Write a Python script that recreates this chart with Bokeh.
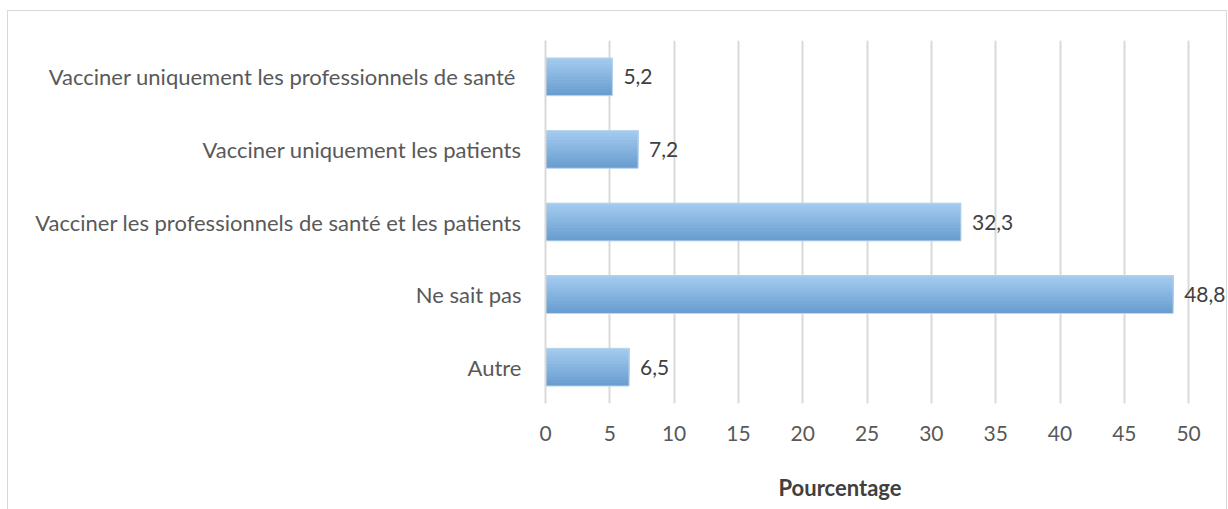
from bokeh.plotting import figure
from bokeh.models import FactorRange, ColumnDataSource, FixedTicker, Range1d, Title
from bokeh.transform import dodge
from bokeh.embed import file_html
from bokeh.resources import INLINE
from bokeh.core.properties import value

categories = [
    "Autre",
    "Ne sait pas",
    "Vacciner les professionnels de santé et les patients",
    "Vacciner uniquement les patients",
    "Vacciner uniquement les professionnels de santé ",
]
values = [6.5, 48.8, 32.3, 7.2, 5.2]
x_ticks = [0, 5, 10, 15, 20, 25, 30, 35, 40, 45, 50]
axis_title = "Pourcentage"

labels = [f"{v:.1f}".replace(".", ",") for v in values]
src = ColumnDataSource(dict(cat=categories, val=values, lab=labels))

FONT = "Lato"
p = figure(
    width=1220, height=499,
    y_range=FactorRange(*categories, range_padding=0),
    x_range=Range1d(0, 53.1),
    output_backend="svg", toolbar_location=None,
    min_border_left=537, min_border_right=0, min_border_top=29, min_border_bottom=107,
)
p.styles = {"border": "1px solid #d9d9d9", "border-bottom": "none",
            "box-sizing": "border-box", "margin-left": "7px", "margin-top": "10px"}
p.outline_line_color = None

# gradient simulation: overlapping bars, darkest (full) first, lighter top parts over it
bar_h = 0.52
n = 12
top_c = (0xa2, 0xca, 0xee)
bot_c = (0x6a, 0x9e, 0xd0)
strip = bar_h / n
for i in range(n):
    t = (n - 1 - i) / (n - 1)
    c = tuple(int(round(top_c[k] + (bot_c[k] - top_c[k]) * t)) for k in range(3))
    col = "#%02x%02x%02x" % c
    h = (n - i) * strip
    off = bar_h / 2 - h / 2
    p.hbar(y=dodge("cat", off, range=p.y_range), right="val", left=0,
           height=h, source=src, fill_color=col, line_color=None)
p.hbar(y="cat", right="val", left=0, height=bar_h, source=src,
       fill_color=None, line_color="#bcd6ee", line_width=1)

p.text(x="val", y="cat", text="lab", source=src, x_offset=11,
       text_baseline="middle", text_align="left", text_font=value(FONT),
       text_font_size="21px", text_color="#404040")

p.xgrid.grid_line_color = "#d9d9d9"
p.xgrid.grid_line_width = 2
p.ygrid.grid_line_color = None
p.xaxis.ticker = FixedTicker(ticks=x_ticks)
p.xaxis.axis_line_color = None
p.xaxis.major_tick_line_color = None
p.xaxis.minor_tick_line_color = None
p.xaxis.major_label_text_font = FONT
p.xaxis.major_label_text_font_size = "21px"
p.xaxis.major_label_text_color = "#595959"
p.xaxis.major_label_standoff = 16
# invisible spacer label to push the title down
p.xaxis.axis_label = " "
p.xaxis.axis_label_text_font_size = "1px"
p.xaxis.axis_label_standoff = 15

p.yaxis.axis_line_color = "#d9d9d9"
p.yaxis.axis_line_width = 2
p.yaxis.major_tick_line_color = None
p.yaxis.minor_tick_line_color = None
p.yaxis.major_label_text_font = FONT
p.yaxis.major_label_text_font_size = "22px"
p.yaxis.major_label_text_color = "#595959"
p.yaxis.major_label_standoff = 18

p.add_layout(Title(text=axis_title, align="left", offset=233, standoff=18,
                   text_font=FONT, text_font_style="bold",
                   text_font_size="22px", text_color="#404040"), "below")

open("out.html", "w").write(file_html(p, INLINE))
